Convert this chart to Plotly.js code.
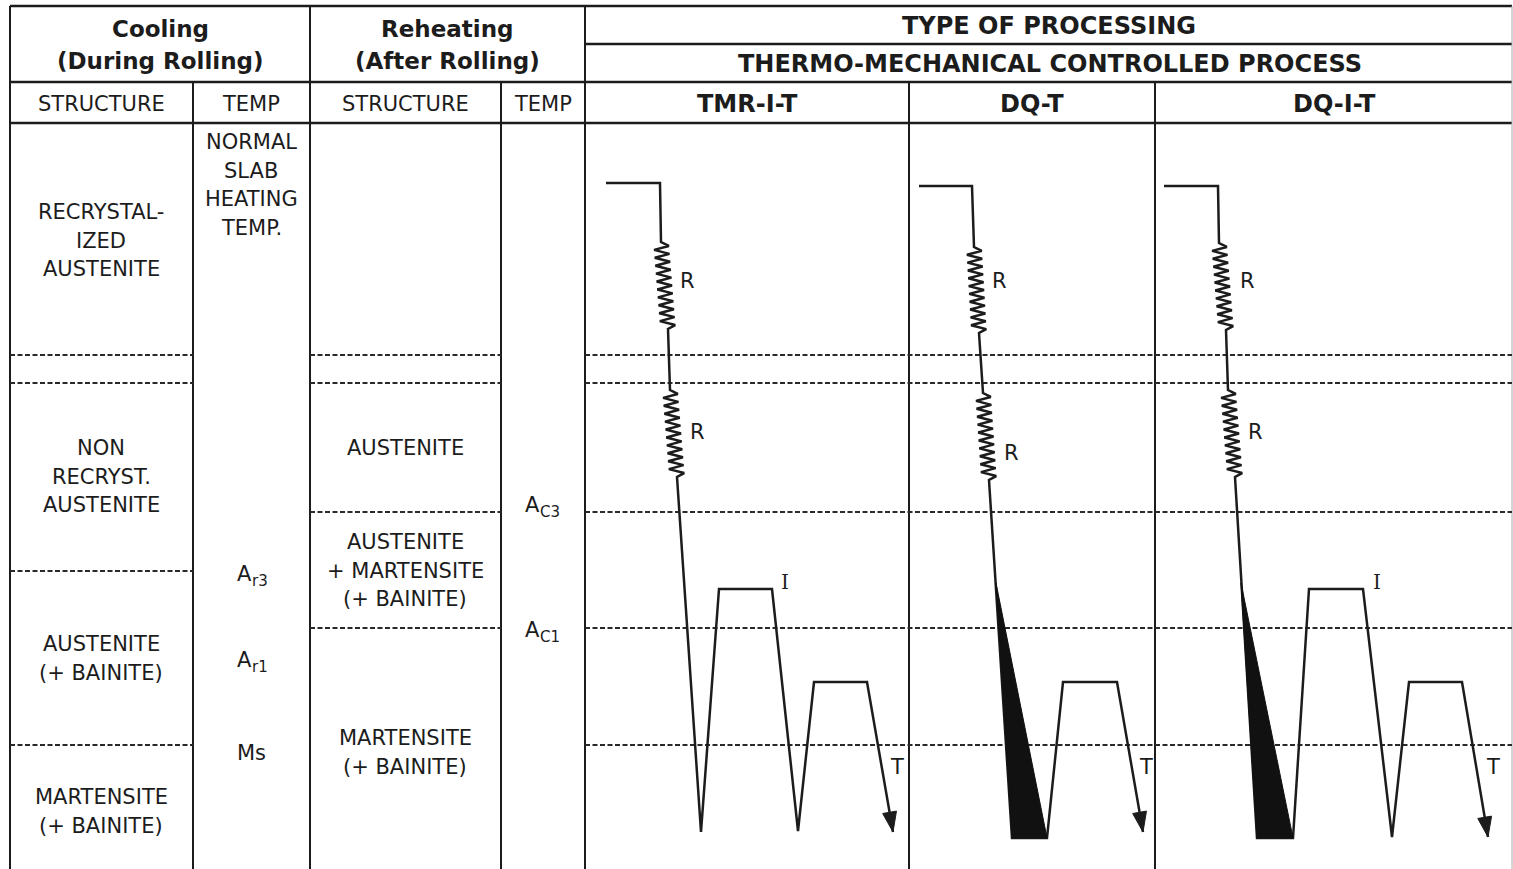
<!DOCTYPE html>
<html><head><meta charset="utf-8">
<script src="https://cdn.plot.ly/plotly-3.0.1.min.js"></script>
<style>html,body{margin:0;padding:0;background:#fff;overflow:hidden}</style>
</head><body><div id="chart" style="width:1513px;height:869px"></div>
<script>
// ---------- DATA (x = time position, y = temperature level, drawing units) ----------
const processNames = ['TMR-I-T', 'DQ-T', 'DQ-I-T'];

// TMR-I-T path key points
const tmrX = [606, 660, 661, 668, 670, 677, 701, 719, 772, 798, 814, 867, 893];
const tmrY = [183, 183, 242, 329, 390, 477, 832, 589, 589, 831, 682, 682, 832];
// DQ-T path key points
const dqX = [919, 972, 974, 979, 983, 989, 1012, 1047, 1063, 1117, 1143];
const dqY = [186, 186, 247, 333, 393, 480, 838, 838, 682, 682, 832];
// DQ-I-T path key points
const dqiX = [1164, 1218, 1219, 1226, 1228, 1235, 1257, 1293, 1309, 1363, 1392, 1409, 1462, 1488];
const dqiY = [186, 186, 243, 330, 390, 477, 838, 838, 589, 589, 837, 682, 682, 837];

// index of first point of each rolling (R) pass segment, per process
const tmrRolling = [2, 4];
const dqRolling = [2, 4];
const dqiRolling = [2, 4];

// direct-quench wedges
const dqWedgeX = [996, 1012, 1047];
const dqWedgeY = [583, 838, 838];
const dqiWedgeX = [1241, 1257, 1293];
const dqiWedgeY = [583, 838, 838];

// step labels on the curves
const stepText = ['R', 'R', 'I', 'T', 'R', 'R', 'T', 'R', 'R', 'I', 'T'];
const stepX = [687, 697, 785, 897, 999, 1011, 1146, 1247, 1255, 1377, 1493];
const stepY = [280, 431, 581, 766, 280, 452, 766, 280, 431, 581, 766];

// table column texts
const coolStructLabels = ['RECRYSTAL-<br>IZED<br>AUSTENITE', 'NON<br>RECRYST.<br>AUSTENITE', 'AUSTENITE<br>(+ BAINITE)', 'MARTENSITE<br>(+ BAINITE)'];
const coolStructY = [211, 447, 643, 796];
const coolTempLabels = ['NORMAL<br>SLAB<br>HEATING<br>TEMP.', 'Ms'];
const coolTempY = [141, 752];
const coolTransMain = ['A', 'A'];
const coolTransSub = ['r3', 'r1'];
const coolTransY = [574, 660];
const reheatStructLabels = ['AUSTENITE', 'AUSTENITE<br>+ MARTENSITE<br>(+ BAINITE)', 'MARTENSITE<br>(+ BAINITE)'];
const reheatStructY = [447, 541, 737];
const reheatTransMain = ['A', 'A'];
const reheatTransSub = ['C3', 'C1'];
const reheatTransY = [505, 630];

// ---------- LAYOUT GEOMETRY ----------
const W = 1513, H = 869;
const INK = '#1c1c1c';
const colX = {left: 10, c1: 193, c2: 310, c3: 501, c4: 585, p1: 909, p2: 1155, right: 1512};
const rowY = {top: 6, mid: 44, head: 82, sub: 123};

const shapes = [];
function line(x0, y0, x1, y1, w, color, dash) {
  shapes.push({type: 'line', xref: 'x', yref: 'y', x0, y0, x1, y1,
    line: {width: w, color: color || INK, dash: dash || 'solid'}, layer: 'below'});
}
// horizontal table rules
line(colX.left, rowY.top, colX.right, rowY.top, 2.5);
line(colX.c4, rowY.mid, colX.right, rowY.mid, 2.5);
line(colX.left, rowY.head, colX.right, rowY.head, 2.5);
line(colX.left, rowY.sub, colX.right, rowY.sub, 2.5);
// vertical table rules
[colX.left, colX.c2, colX.c4].forEach(x => line(x, rowY.top, x, H, 2));
[colX.c1, colX.c3, colX.p1, colX.p2].forEach(x => line(x, rowY.head, x, H, 2));
line(colX.right, rowY.top, colX.right, H, 1, '#aaa');

// dashed level lines
const DASH = '5px,2.5px';
[355, 383, 571, 745].forEach(y => line(colX.left, y, colX.c1, y, 2, '#2a2a2a', DASH));
[355, 383, 512, 628].forEach(y => line(colX.c2, y, colX.c3, y, 2, '#2a2a2a', DASH));
[355, 383, 512, 628, 745].forEach(y => line(colX.c4, y, colX.right, y, 2, '#2a2a2a', DASH));

// ---------- TRACES ----------
const traces = [];
function zigzag(x0, y0, x1, y1, n, amp) {
  const xs = [], ys = [];
  for (let i = 0; i <= n; i++) {
    const t = i / n;
    const off = (i === 0 || i === n) ? 0 : (i % 2 ? amp : -amp);
    xs.push(x0 + (x1 - x0) * t + off);
    ys.push(y0 + (y1 - y0) * t);
  }
  return [xs, ys];
}
function addPath(px, py, rolling) {
  const xs = [], ys = [];
  for (let i = 0; i < px.length; i++) {
    if (rolling.includes(i - 1)) {
      const z = zigzag(px[i - 1], py[i - 1], px[i], py[i], 22, 7.5);
      xs.push(...z[0].slice(1)); ys.push(...z[1].slice(1));
    } else { xs.push(px[i]); ys.push(py[i]); }
  }
  traces.push({x: xs, y: ys, mode: 'lines', line: {color: INK, width: 2.5}, hoverinfo: 'skip'});
  // arrow head from last segment
  const n = px.length;
  const tx = px[n - 1], ty = py[n - 1];
  const dx = tx - px[n - 2], dy = ty - py[n - 2];
  const L = Math.hypot(dx, dy), ux = dx / L, uy = dy / L;
  const bx = tx - 20 * ux, by = ty - 20 * uy;
  traces.push({x: [tx, bx - 7 * uy, bx + 7 * uy, tx], y: [ty, by + 7 * ux, by - 7 * ux, ty],
    mode: 'lines', fill: 'toself', fillcolor: INK, line: {color: INK, width: 1}, hoverinfo: 'skip'});
}
function addWedge(wx, wy) {
  traces.push({x: [...wx, wx[0]], y: [...wy, wy[0]], mode: 'lines', fill: 'toself',
    fillcolor: '#111', line: {color: '#111', width: 1}, hoverinfo: 'skip'});
}
addPath(tmrX, tmrY, tmrRolling);
addPath(dqX, dqY, dqRolling);
addPath(dqiX, dqiY, dqiRolling);
addWedge(dqWedgeX, dqWedgeY);
addWedge(dqiWedgeX, dqiWedgeY);

// ---------- TEXT ----------
const annotations = [];
const FONT = 'DejaVu Sans, Verdana, sans-serif';
function txt(x, y, text, size, opts) {
  annotations.push(Object.assign({xref: 'x', yref: 'y', x, y, text, showarrow: false,
    xanchor: 'center', yanchor: 'middle', font: {family: FONT, size, color: INK}}, opts || {}));
}
function bold(x, y, text, size) {
  txt(x, y, text, size, {font: {family: FONT, size, color: INK, weight: 'bold'}});
}
function block(x, y0, text, size, step) {
  text.split('<br>').forEach((t, i) => txt(x, y0 + i * step, t, size));
}
function subLabel(x, y, main, sub) {
  // main letter right-aligned at x, subscript left-aligned right after it, lowered
  txt(x, y, main, 21, {xanchor: 'right', borderpad: 0, borderwidth: 0});
  txt(x, y + 7, sub, 15, {xanchor: 'left', borderpad: 0, borderwidth: 0});
}
// headers
bold(160, 29, 'Cooling', 23);
bold(160, 61, '(During Rolling)', 23);
bold(447, 29, 'Reheating', 23);
bold(447, 61, '(After Rolling)', 23);
bold(1049, 26, 'TYPE OF PROCESSING', 24);
bold(1050, 64, 'THERMO-MECHANICAL CONTROLLED PROCESS', 24);
txt(101, 104, 'STRUCTURE', 21);
txt(251, 104, 'TEMP', 21);
txt(405, 104, 'STRUCTURE', 21);
txt(543, 104, 'TEMP', 21);
const procX = [747, 1032, 1334];
processNames.forEach((p, i) => bold(procX[i], 104, p, 24));

coolStructLabels.forEach((t, i) => block(101, coolStructY[i] + 1, t, 21, 28.7));
coolTempLabels.forEach((t, i) => block(251, coolTempY[i] + 1, t, 21, 28.7));
coolTransMain.forEach((t, i) => subLabel(252, coolTransY[i], t, coolTransSub[i]));
reheatTransMain.forEach((t, i) => subLabel(540, reheatTransY[i], t, reheatTransSub[i]));
reheatStructLabels.forEach((t, i) => block(405, reheatStructY[i] + 1, t, 21, 28.7));

stepText.forEach((t, i) => txt(stepX[i], stepY[i] + 1, t, 21,
  {font: {family: t === 'I' ? 'DejaVu Serif, serif' : FONT, size: t === 'I' ? 20 : 21, color: INK}}));

const layout = {
  width: W, height: H, margin: {l: 0, r: 0, t: 0, b: 0},
  paper_bgcolor: '#fff', plot_bgcolor: '#fff', showlegend: false,
  xaxis: {range: [0, W], visible: false, fixedrange: true},
  yaxis: {range: [H, 0], visible: false, fixedrange: true},
  shapes, annotations
};
Plotly.newPlot('chart', traces, layout, {displayModeBar: false, staticPlot: true});
</script>
</body></html>
